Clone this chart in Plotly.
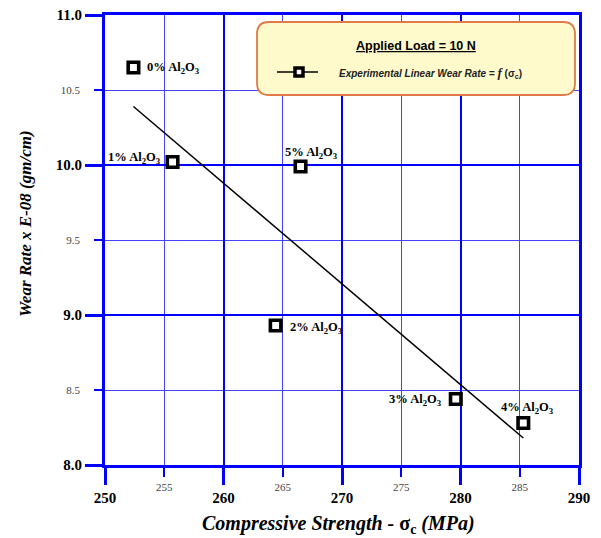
import plotly.graph_objects as go

# Compressive strength (MPa) and wear rate (x E-08 gm/cm) per Al2O3 content
strength = [252.4, 255.7, 264.4, 279.6, 285.3, 266.5]
wear_rate = [10.65, 10.02, 8.93, 8.44, 8.28, 9.99]
point_labels = ["0% Al<sub>2</sub>O<sub>3</sub>", "1% Al<sub>2</sub>O<sub>3</sub>",
                "2% Al<sub>2</sub>O<sub>3</sub>", "3% Al<sub>2</sub>O<sub>3</sub>",
                "4% Al<sub>2</sub>O<sub>3</sub>", "5% Al<sub>2</sub>O<sub>3</sub>"]

# Linear trend line end points
trend_x = [252.4, 285.3]
trend_y = [10.39, 8.18]

x_major = [250, 260, 270, 280, 290]
x_minor = [255, 265, 275, 285]
y_major = [8.0, 9.0, 10.0, 11.0]
y_minor = [8.5, 9.5, 10.5]

BLUE = "#0000FF"
SERIF = "Liberation Serif"
SANS = "Liberation Sans"

W, H = 601, 538
ML, MR, MT, MB = 105, 22, 15, 73
PW, PH = W - ML - MR, H - MT - MB


def px(xp):
    return (xp - ML) / PW


def py(yp):
    return (H - MB - yp) / PH


fig = go.Figure()

fig.add_trace(go.Scatter(x=trend_x, y=trend_y, mode="lines",
                         line=dict(color="black", width=1.5),
                         showlegend=False, hoverinfo="skip"))
fig.add_trace(go.Scatter(x=strength, y=wear_rate, mode="markers",
                         marker=dict(symbol="square", size=10.5, color="white",
                                     line=dict(color="black", width=3.6)),
                         showlegend=False))
# carrier trace for the minor-label axes
fig.add_trace(go.Scatter(x=[None], y=[None], xaxis="x2", yaxis="y2",
                         showlegend=False, hoverinfo="skip"))

# point labels: anchor, x shift, y shift (px)
label_style = [("left", 12, 0), ("right", -10, 4), ("left", 12, -2),
               ("right", -12, -1), ("center", 4, 15), ("center", 11, 14)]
for xv, yv, txt, (anc, dx, dy) in zip(strength, wear_rate, point_labels, label_style):
    fig.add_annotation(x=xv, y=yv, text="<b>" + txt + "</b>", showarrow=False,
                       xanchor=anc, yanchor="middle", xshift=dx, yshift=dy,
                       font=dict(family=SERIF, size=12.5, color="black"))

# axis titles
fig.add_annotation(xref="paper", yref="paper", x=px(338), y=py(524),
                   text="<b><i>Compressive Strength - </i>σ<sub>c</sub><i> (MPa)</i></b>",
                   showarrow=False, xanchor="center", yanchor="middle",
                   font=dict(family=SERIF, size=20, color="black"))
fig.add_annotation(xref="paper", yref="paper", x=px(25), y=py(224),
                   text="<b><i>Wear Rate x E-08 (gm/cm)</i></b>", textangle=-90,
                   showarrow=False, xanchor="center", yanchor="middle",
                   font=dict(family=SERIF, size=17, color="black"))

# legend box with rounded corners
x0, x1, y0, y1 = px(257), px(575), py(95), py(22)
rx, ry = 12 / PW, 12 / PH
path = (f"M{x0+rx},{y0} L{x1-rx},{y0} Q{x1},{y0} {x1},{y0+ry} "
        f"L{x1},{y1-ry} Q{x1},{y1} {x1-rx},{y1} L{x0+rx},{y1} "
        f"Q{x0},{y1} {x0},{y1-ry} L{x0},{y0+ry} Q{x0},{y0} {x0+rx},{y0} Z")
fig.add_shape(type="path", path=path, xref="paper", yref="paper",
              fillcolor="#FFFACB", line=dict(color="#E07A4A", width=1.8), layer="above")
fig.add_shape(type="line", xref="paper", yref="paper", x0=px(277), x1=px(318),
              y0=py(72), y1=py(72), line=dict(color="black", width=1.5), layer="above")
fig.add_shape(type="rect", xref="paper", yref="paper", x0=px(295), x1=px(303),
              y0=py(76), y1=py(68), fillcolor="white",
              line=dict(color="black", width=3.5), layer="above")
fig.add_annotation(xref="paper", yref="paper", x=px(416), y=py(46),
                   text="<b><u>Applied Load = 10 N</u></b>", showarrow=False,
                   xanchor="center", yanchor="middle",
                   font=dict(family=SANS, size=12.5, color="black"))
fig.add_annotation(xref="paper", yref="paper", x=px(337), y=py(72),
                   text=("<b><i>Experimental Linear Wear Rate = </i></b>"
                         "<span style=\"font-family:Liberation Serif;font-size:13px\"><b><i>f</i></b></span>"
                         "<b> (σ<sub>c</sub>)</b>"),
                   showarrow=False, xanchor="left", yanchor="middle",
                   font=dict(family=SANS, size=10, color="#222222"))

fig.update_layout(
    width=W, height=H, autosize=False,
    margin=dict(l=ML, r=MR, t=MT, b=MB, autoexpand=False),
    paper_bgcolor="white", plot_bgcolor="white",
    showlegend=False,
    xaxis=dict(range=[250, 290], tickvals=x_major, automargin=False,
               ticktext=[f"<b>{v}</b>" for v in x_major],
               tickfont=dict(family=SERIF, size=15, color="black"),
               ticks="outside", ticklen=17, tickwidth=3, tickcolor=BLUE,
               showline=True, linewidth=3, linecolor=BLUE, mirror=True,
               showgrid=True, gridcolor=BLUE, gridwidth=2, zeroline=False,
               minor=dict(tickvals=x_minor, ticks="outside", ticklen=9, tickwidth=2,
                          tickcolor=BLUE, showgrid=True, gridcolor="#4444FF", gridwidth=1.3)),
    yaxis=dict(range=[8, 11], tickvals=y_major, automargin=False,
               ticktext=[f"<b>{v:.1f}</b>" for v in y_major],
               tickfont=dict(family=SERIF, size=15, color="black"),
               ticks="outside", ticklen=17, tickwidth=3, tickcolor=BLUE,
               showline=True, linewidth=3, linecolor=BLUE, mirror=True,
               showgrid=True, gridcolor=BLUE, gridwidth=2, zeroline=False,
               minor=dict(tickvals=y_minor, ticks="outside", ticklen=8, tickwidth=2,
                          tickcolor=BLUE, showgrid=True, gridcolor="#4444FF", gridwidth=1.3)),
    xaxis2=dict(range=[250, 290], overlaying="x", anchor="y", side="bottom",
                automargin=False,
                tickvals=x_minor, ticktext=[str(v) for v in x_minor],
                tickfont=dict(family=SERIF, size=11, color="#444444"),
                ticks="", ticklabelstandoff=14, showgrid=False, showline=False,
                zeroline=False),
    yaxis2=dict(range=[8, 11], overlaying="y", anchor="x", side="left",
                automargin=False,
                tickvals=y_minor, ticktext=[f"{v:.1f}" for v in y_minor],
                tickfont=dict(family=SERIF, size=11, color="#444444"),
                ticks="", ticklabelstandoff=24, showgrid=False, showline=False,
                zeroline=False),
)

fig.write_html("out.html")
